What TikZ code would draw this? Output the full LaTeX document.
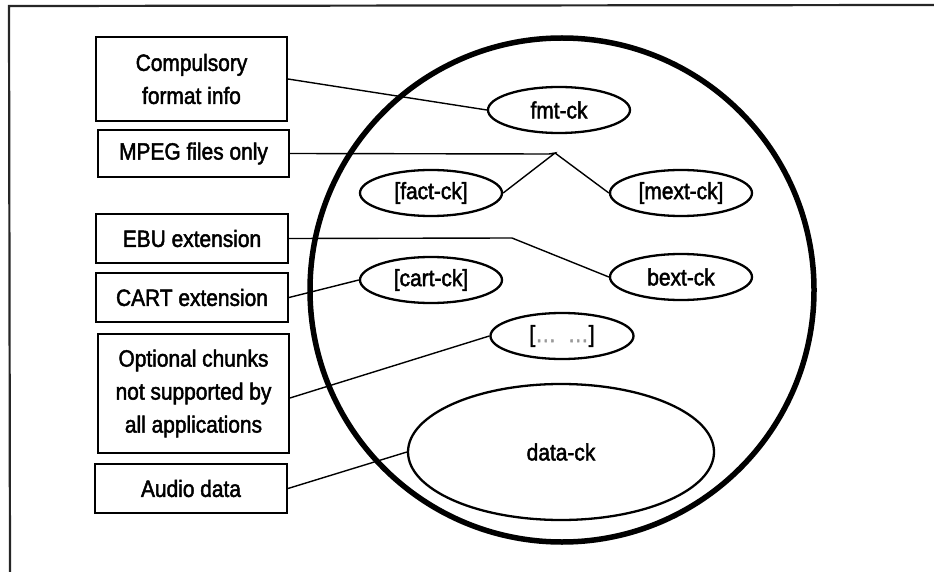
\documentclass[tikz,border=0pt]{standalone}
\usepackage{fontspec}
\setmainfont{Liberation Sans}[FakeStretch=0.89, FakeBold=2]
\usetikzlibrary{shapes.geometric}
\tikzset{
  label box/.style={draw, line width=1.9pt, rectangle, inner sep=0pt, align=center,
    font=\fontsize{23.5}{33}\selectfont},
  chunk/.style={draw, line width=2.3pt, ellipse, inner sep=0pt, fill=white,
    minimum width=142pt, minimum height=46pt, font=\fontsize{23.5}{25}\selectfont},
  link/.style={line width=1.4pt},
}
\begin{document}
\begin{tikzpicture}[x=1pt, y=-1pt]
\useasboundingbox (0,0) rectangle (934,572);
% page frame (top and left edges)
\draw[line width=2.2pt, black!85] (934,5) -- (9,6) -- (10,572);

% RIFF container
\node[draw, circle, line width=5.5pt, minimum size=504pt, inner sep=0pt] (riff) at (562,290) {};

% chunks
\node[chunk] (fmt)  at (559,110) {fmt-ck};
\node[chunk] (fact) at (431,193) {[fact-ck]};
\node[chunk] (mext) at (681,193) {[mext-ck]};
\node[chunk] (cart) at (431,280) {[cart-ck]};
\node[chunk] (bext) at (681,277) {bext-ck};
\node[chunk, minimum width=143pt] (more) at (562,336) {[\textcolor{black!40}{\dots\ \ \dots}]};
\node[chunk, minimum width=306pt, minimum height=136pt] (data) at (561,452) {data-ck};

% descriptions
\node[label box, minimum width=191pt, minimum height=84pt] (comp) at (191.5,79) {Compulsory\\format info};
\node[label box, minimum width=191pt, minimum height=47pt] (mpeg) at (193.5,153.5) {MPEG files only};
\node[label box, minimum width=192pt, minimum height=49pt] (ebu) at (192,238.5) {EBU extension};
\node[label box, minimum width=192pt, minimum height=49pt] (cartx) at (192,297.5) {CART extension};
\node[label box, minimum width=191pt, minimum height=119pt] (opt) at (193.5,393.5) {Optional chunks\\not supported by\\all applications};
\node[label box, minimum width=192pt, minimum height=49pt] (audio) at (191,488.5) {Audio data};

% connectors
\coordinate (mpegbend) at (549,154);
\coordinate (mpegpeak) at (555,153);
\coordinate (ebubend) at (512,238);
\draw[link] (comp.east) -- (fmt.west);
\draw[link] (mpeg.east) -- (mpegbend) -- (mpegpeak) -- (fact.east);
\draw[link] (mpegpeak) -- (mext.west);
\draw[link] (ebu.east) -- (ebubend) -- (bext.west);
\draw[link] (cartx.east) -- (cart.west);
\draw[link] ([yshift=-4.5pt]opt.east) -- (more.west);
\draw[link] (audio.east) -- (data.west);
\end{tikzpicture}
\end{document}
